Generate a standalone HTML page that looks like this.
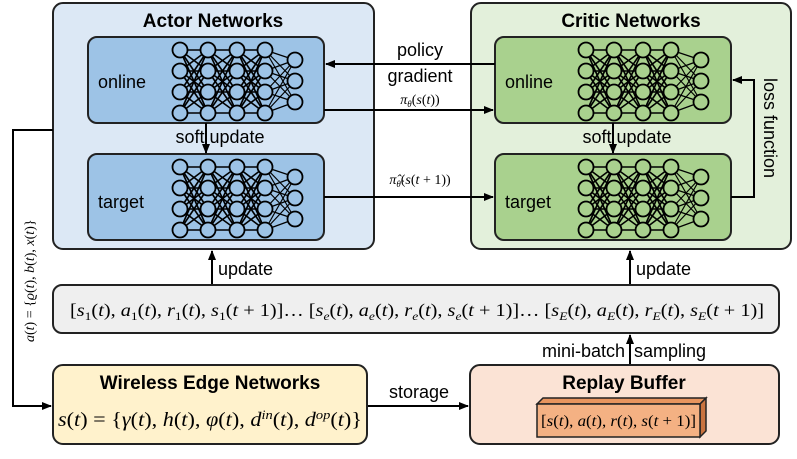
<!DOCTYPE html>
<html><head><meta charset="utf-8"><style>
body{margin:0;background:#fff}
svg{display:block}
.t{font-family:"Liberation Sans",sans-serif}
.m{font-family:"Liberation Serif",serif}
.i{font-style:italic}
</style></head><body>
<svg id="s" width="797" height="459" viewBox="0 0 797 459" xmlns="http://www.w3.org/2000/svg">
<defs><marker id="a" markerWidth="10" markerHeight="8" refX="9" refY="4" orient="auto" markerUnits="userSpaceOnUse"><path d="M0,0L10,4L0,8z" fill="#000"/></marker></defs>
<rect x="53" y="3" width="321" height="246" rx="10" fill="#dce8f5" stroke="#222" stroke-width="2"/>
<rect x="471" y="3" width="320" height="246" rx="10" fill="#e3f0db" stroke="#222" stroke-width="2"/>
<g class="t">
<text x="213" y="27" font-size="19" font-weight="bold" text-anchor="middle">Actor Networks</text>
<text x="631" y="27" font-size="19" font-weight="bold" text-anchor="middle">Critic Networks</text>
</g>
<rect x="88" y="37" width="236" height="86" rx="9" fill="#9dc3e6" stroke="#222" stroke-width="2"/>
<rect x="88" y="154" width="236" height="86" rx="9" fill="#9dc3e6" stroke="#222" stroke-width="2"/>
<rect x="495" y="37" width="236" height="86" rx="9" fill="#a9d18e" stroke="#222" stroke-width="2"/>
<rect x="495" y="154" width="236" height="86" rx="9" fill="#a9d18e" stroke="#222" stroke-width="2"/>
<g class="t" font-size="18">
<text x="98" y="88">online</text>
<text x="98" y="208">target</text>
<text x="505" y="88">online</text>
<text x="505" y="208">target</text>
</g>
<g id="nn"></g>
<g stroke="#000" stroke-width="2" fill="none">
<line x1="495" y1="64" x2="326" y2="64" marker-end="url(#a)"/>
<line x1="324" y1="110" x2="493" y2="110" marker-end="url(#a)"/>
<line x1="324" y1="197" x2="493" y2="197" marker-end="url(#a)"/>
<line x1="206" y1="123" x2="206" y2="153" marker-end="url(#a)"/>
<line x1="613" y1="123" x2="613" y2="153" marker-end="url(#a)"/>
<polyline points="731,197 754,197 754,80 733,80" marker-end="url(#a)"/>
<polyline points="53,130 13,130 13,406 51,406" marker-end="url(#a)"/>
<line x1="212" y1="285" x2="212" y2="251" marker-end="url(#a)"/>
<line x1="630" y1="285" x2="630" y2="251" marker-end="url(#a)"/>
<line x1="630" y1="365" x2="630" y2="335" marker-end="url(#a)"/>
<line x1="367" y1="406" x2="468" y2="406" marker-end="url(#a)"/>
</g>
<g class="t" font-size="18">
<text x="420" y="56" text-anchor="middle">policy</text>
<text x="420" y="82" text-anchor="middle">gradient</text>
<text x="220" y="143" text-anchor="middle">soft update</text>
<text x="627" y="143" text-anchor="middle">soft update</text>
<text x="764" y="78" transform="rotate(90 764 78)">loss function</text>
<text x="218" y="275">update</text>
<text x="636" y="275">update</text>
<text x="625" y="357" text-anchor="end">mini-batch</text>
<text x="634" y="357">sampling</text>
<text x="419" y="398" text-anchor="middle">storage</text>
</g>
<text x="420" y="104" font-size="14" text-anchor="middle" class="m"><tspan class="i">π</tspan><tspan font-size="9" dy="3" class="i">θ</tspan><tspan dy="-3">(</tspan><tspan class="i">s</tspan>(<tspan class="i">t</tspan>))</text>
<text x="420" y="184" font-size="14" text-anchor="middle" class="m"><tspan class="i">π̂</tspan><tspan font-size="9" dy="3" class="i">θ̂</tspan><tspan dy="-3">(</tspan><tspan class="i">s</tspan>(<tspan class="i">t</tspan> + 1))</text>
<text transform="translate(34,342) rotate(-90)" font-size="14" class="m"><tspan class="i">a</tspan>(<tspan class="i">t</tspan>) = {<tspan class="i">ϱ</tspan>(<tspan class="i">t</tspan>), <tspan class="i">b</tspan>(<tspan class="i">t</tspan>), <tspan class="i">x</tspan>(<tspan class="i">t</tspan>)}</text>
<rect x="53" y="285" width="726" height="48" rx="9" fill="#efefef" stroke="#222" stroke-width="2"/>
<text x="70" y="316" font-size="18" class="m" textLength="694" lengthAdjust="spacingAndGlyphs">[<tspan class="i">s</tspan><tspan font-size="12" dy="4">1</tspan><tspan dy="-4">(</tspan><tspan class="i">t</tspan>), <tspan class="i">a</tspan><tspan font-size="12" dy="4">1</tspan><tspan dy="-4">(</tspan><tspan class="i">t</tspan>), <tspan class="i">r</tspan><tspan font-size="12" dy="4">1</tspan><tspan dy="-4">(</tspan><tspan class="i">t</tspan>), <tspan class="i">s</tspan><tspan font-size="12" dy="4">1</tspan><tspan dy="-4">(</tspan><tspan class="i">t</tspan> + 1)]… [<tspan class="i">s</tspan><tspan font-size="12" dy="4" class="i">e</tspan><tspan dy="-4">(</tspan><tspan class="i">t</tspan>), <tspan class="i">a</tspan><tspan font-size="12" dy="4" class="i">e</tspan><tspan dy="-4">(</tspan><tspan class="i">t</tspan>), <tspan class="i">r</tspan><tspan font-size="12" dy="4" class="i">e</tspan><tspan dy="-4">(</tspan><tspan class="i">t</tspan>), <tspan class="i">s</tspan><tspan font-size="12" dy="4" class="i">e</tspan><tspan dy="-4">(</tspan><tspan class="i">t</tspan> + 1)]… [<tspan class="i">s</tspan><tspan font-size="12" dy="4" class="i">E</tspan><tspan dy="-4">(</tspan><tspan class="i">t</tspan>), <tspan class="i">a</tspan><tspan font-size="12" dy="4" class="i">E</tspan><tspan dy="-4">(</tspan><tspan class="i">t</tspan>), <tspan class="i">r</tspan><tspan font-size="12" dy="4" class="i">E</tspan><tspan dy="-4">(</tspan><tspan class="i">t</tspan>), <tspan class="i">s</tspan><tspan font-size="12" dy="4" class="i">E</tspan><tspan dy="-4">(</tspan><tspan class="i">t</tspan> + 1)]</text>
<rect x="53" y="365" width="314" height="79" rx="10" fill="#fff2cc" stroke="#222" stroke-width="2"/>
<rect x="470" y="365" width="309" height="79" rx="10" fill="#fbe3d5" stroke="#222" stroke-width="2"/>
<g class="t">
<text x="210" y="389" font-size="19" font-weight="bold" text-anchor="middle">Wireless Edge Networks</text>
<text x="624" y="389" font-size="19" font-weight="bold" text-anchor="middle">Replay Buffer</text>
</g>
<text x="58" y="426" font-size="20" class="m" textLength="304" lengthAdjust="spacingAndGlyphs"><tspan class="i">s</tspan>(<tspan class="i">t</tspan>) = {<tspan class="i">γ</tspan>(<tspan class="i">t</tspan>), <tspan class="i">h</tspan>(<tspan class="i">t</tspan>), <tspan class="i">φ</tspan>(<tspan class="i">t</tspan>), <tspan class="i">d</tspan><tspan font-size="13" dy="-7" class="i">in</tspan><tspan dy="7">(</tspan><tspan class="i">t</tspan>), <tspan class="i">d</tspan><tspan font-size="13" dy="-7" class="i">op</tspan><tspan dy="7">(</tspan><tspan class="i">t</tspan>)}</text>
<polygon points="537,404 543,398 706,398 700,404" fill="#e8955e" stroke="#222" stroke-width="1.5"/>
<polygon points="700,404 706,398 706,431 700,437" fill="#c9733f" stroke="#222" stroke-width="1.5"/>
<rect x="537" y="404" width="163" height="33" fill="#f4b183" stroke="#222" stroke-width="1.5"/>
<text x="541" y="426" font-size="16" class="m" textLength="155" lengthAdjust="spacingAndGlyphs">[<tspan class="i">s</tspan>(<tspan class="i">t</tspan>), <tspan class="i">a</tspan>(<tspan class="i">t</tspan>), <tspan class="i">r</tspan>(<tspan class="i">t</tspan>), <tspan class="i">s</tspan>(<tspan class="i">t</tspan> + 1)]</text>
</svg>
<script>
var g=document.getElementById('nn'),h='';
function net(ox,oy){var cols=[180,208,237,265],ys=[50,71,92,113],out=[60,81,102];
 for(var c=0;c<3;c++)for(var i=0;i<4;i++)for(var j=0;j<4;j++)h+='<line x1="'+(ox+cols[c])+'" y1="'+(oy+ys[i])+'" x2="'+(ox+cols[c+1])+'" y2="'+(oy+ys[j])+'" stroke="#000" stroke-width="1.6"/>';
 for(var i=0;i<4;i++)for(var j=0;j<3;j++)h+='<line x1="'+(ox+265)+'" y1="'+(oy+ys[i])+'" x2="'+(ox+295)+'" y2="'+(oy+out[j])+'" stroke="#000" stroke-width="1.2"/>';
 var f=ox>100?'#a9d18e':'#9dc3e6';
 for(var c=0;c<4;c++)for(var i=0;i<4;i++)h+='<circle cx="'+(ox+cols[c])+'" cy="'+(oy+ys[i])+'" r="7.5" fill="'+f+'" stroke="#000" stroke-width="1.8"/>';
 for(var j=0;j<3;j++)h+='<circle cx="'+(ox+295)+'" cy="'+(oy+out[j])+'" r="7.5" fill="'+f+'" stroke="#000" stroke-width="1.8"/>';}
net(0,0);net(0,117);net(406,0);net(406,117);
g.innerHTML=h;
</script>
</body></html>
